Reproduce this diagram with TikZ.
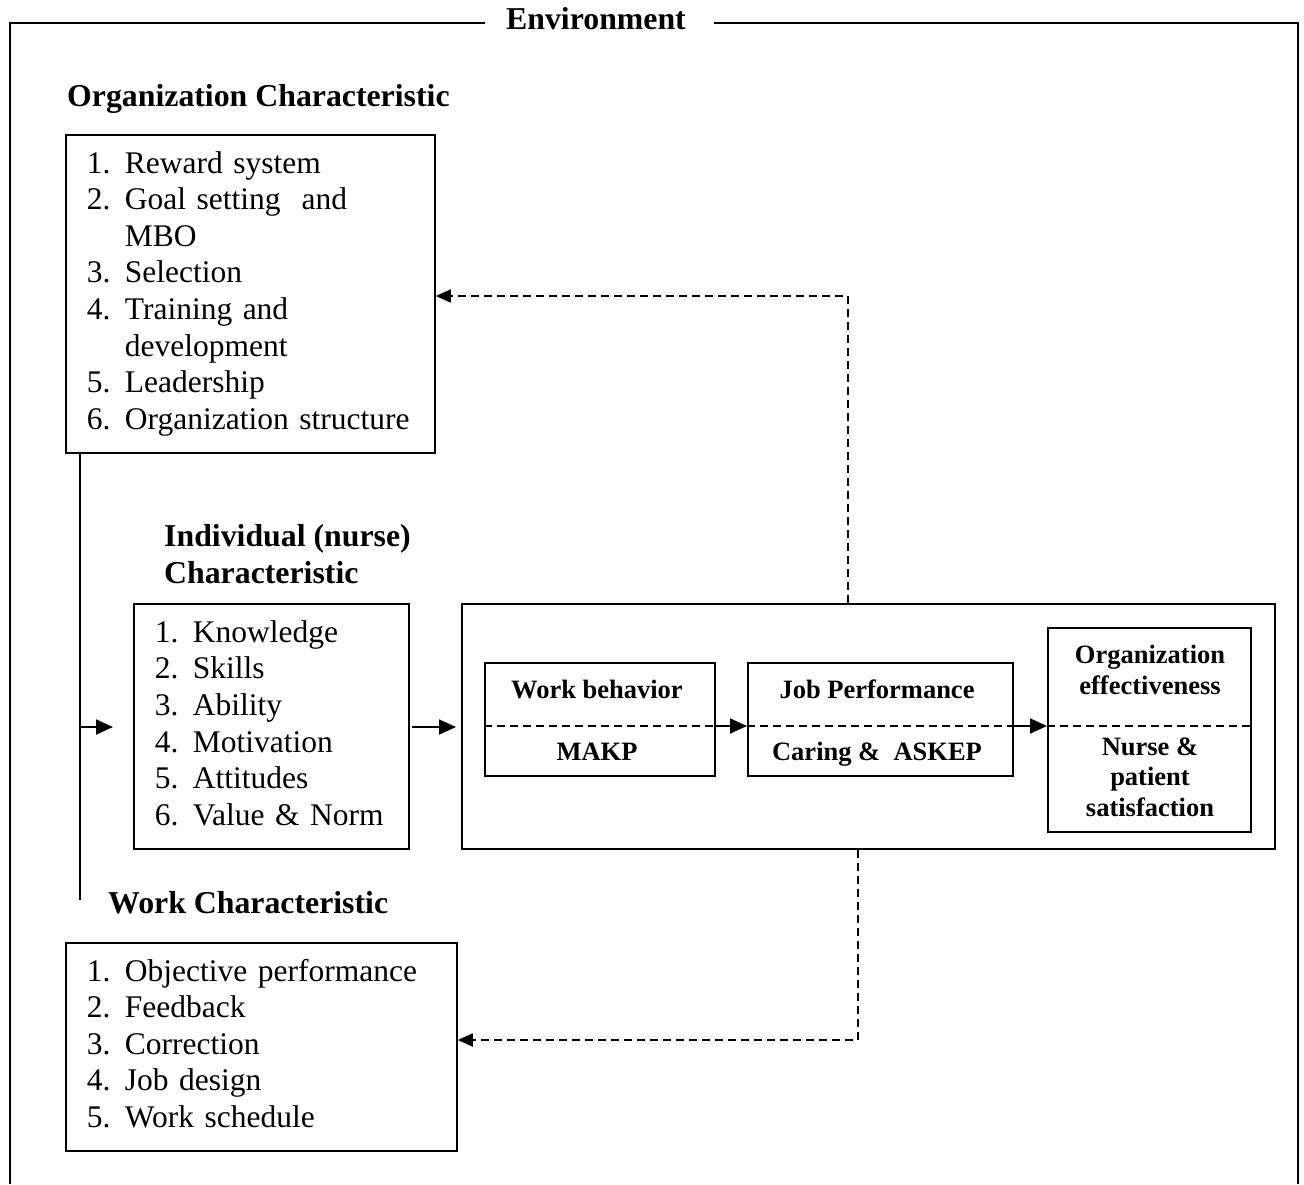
\documentclass[tikz,border=0pt]{standalone}
\usepackage{fontspec}
\setmainfont{Liberation Serif}
\usetikzlibrary{arrows.meta}
\begin{document}
\begin{tikzpicture}[x=1pt,y=-1pt,
  lw/.style={line width=1.8pt},
  listbox/.style={draw, line width=1.8pt, anchor=north west, align=left, inner xsep=21pt, inner ysep=0pt, font=\fontsize{31.5}{36.6}\selectfont},
  head/.style={anchor=base west, inner sep=0pt, font=\fontsize{31.8}{36.6}\selectfont\bfseries},
  mbox/.style={draw, line width=1.8pt, anchor=north west, inner sep=0pt},
  mlabel/.style={anchor=base, inner sep=0pt, font=\fontsize{26.5}{30.5}\selectfont\bfseries},
  arr/.style={line width=1.8pt, -{Triangle[length=17pt,width=15pt]}},
  darr/.style={line width=1.8pt, dash pattern=on 8pt off 5pt, -{Triangle[length=15pt,width=13pt]}},
  dline/.style={line width=1.8pt, dash pattern=on 8pt off 5pt}
]
\useasboundingbox (0,0) rectangle (1304,1184);

% environment frame
\node[head, anchor=base] (env) at (596,29) {Environment};
\draw[lw] (485,23) -- (10,23) -- (10,1184);
\draw[lw] (714,23) -- (1298,23) -- (1298,1184);

% organization characteristic
\node[head] (orgh) at (67,106) {Organization Characteristic};
\node[listbox, text width=327pt, minimum width=369pt, minimum height=318pt] (org) at (65,134) {%
\begin{tabular}{@{}p{38pt}@{}l@{}}
1.&Reward system\\
2.&Goal setting\ \ and\\
&MBO\\
3.&Selection\\
4.&Training and\\
&development\\
5.&Leadership\\
6.&Organization structure
\end{tabular}};

% individual characteristic
\node[head] (indh1) at (164,546) {Individual (nurse)};
\node[head] (indh2) at (164,583) {Characteristic};
\node[listbox, text width=233pt, minimum width=275pt, minimum height=245pt] (ind) at (133,603) {%
\begin{tabular}{@{}p{38pt}@{}l@{}}
1.&Knowledge\\
2.&Skills\\
3.&Ability\\
4.&Motivation\\
5.&Attitudes\\
6.&Value \& Norm
\end{tabular}};

% work characteristic
\node[head] (workh) at (108,913) {Work Characteristic};
\node[listbox, text width=349pt, minimum width=391pt, minimum height=208pt] (work) at (65,942) {%
\begin{tabular}{@{}p{38pt}@{}l@{}}
1.&Objective performance\\
2.&Feedback\\
3.&Correction\\
4.&Job design\\
5.&Work schedule
\end{tabular}};

% outcome boxes
\node[mbox, minimum width=813pt, minimum height=245pt] (big) at (461,603) {};
\node[mbox, minimum width=230pt, minimum height=113pt] (wb) at (484,662) {};
\node[mbox, minimum width=265pt, minimum height=113pt] (jp) at (747,662) {};
\node[mbox, minimum width=203pt, minimum height=204pt] (oe) at (1047,627) {};

\node[mlabel] (wbt) at (597,698) {Work behavior};
\node[mlabel] (wbb) at (597,760) {MAKP};
\node[mlabel] (jpt) at (877,698) {Job Performance};
\node[mlabel] (jpb) at (877,760) {Caring \&\ \ ASKEP};
\node[mlabel] (oet1) at (1150,663) {Organization};
\node[mlabel] (oet2) at (1150,694) {effectiveness};
\node[mlabel] (oeb1) at (1150,755) {Nurse \&};
\node[mlabel] (oeb2) at (1150,785) {patient};
\node[mlabel] (oeb3) at (1150,816) {satisfaction};

\coordinate (mid) at (0,726);
\draw[dline] (wb.west |- mid) -- (wb.east |- mid);
\draw[dline] (jp.west |- mid) -- (jp.east |- mid);
\draw[dline] (oe.west |- mid) -- (oe.east |- mid);
\draw[arr] (wb.east |- mid) -- (jp.west |- mid);
\draw[arr] (jp.east |- mid) -- (oe.west |- mid);

% trunk and arrows
\coordinate (tj) at (80,727);
\coordinate (tend) at (80,900);
\draw[lw] (org.south -| tj) -- (tend);
\draw[arr, shorten >=20pt] (tj) -- (ind.west |- tj);
\draw[arr, shorten <=2pt, shorten >=5pt] (ind.east |- tj) -- (big.west |- tj);

% feedback loops
\coordinate (fu) at (848,296);
\draw[darr] (big.north -| fu) -- (fu) -- (org.east |- fu);
\coordinate (fd) at (858,1040);
\draw[darr] (big.south -| fd) -- (fd) -- (work.east |- fd);
\end{tikzpicture}
\end{document}
